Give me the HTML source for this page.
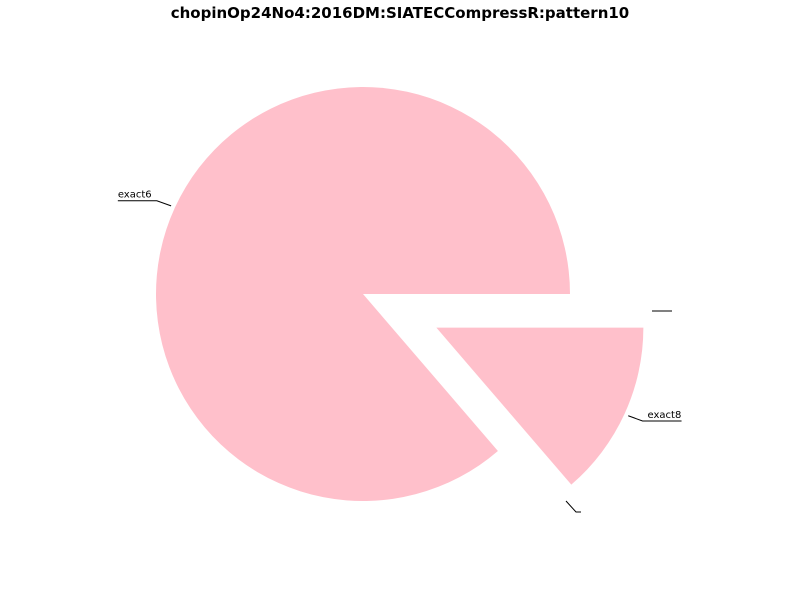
<!DOCTYPE html>
<html><head><meta charset="utf-8"><style>
body{margin:0;background:#fff;}
svg{display:block;font-family:"DejaVu Sans","Liberation Sans",sans-serif;}
</style></head><body>
<svg id="chart" width="800" height="600">
<text x="400" y="18" text-anchor="middle" font-size="15" font-weight="bold">chopinOp24No4:2016DM:SIATECCompressR:pattern10</text>
<line x1="652" y1="311" x2="672" y2="311" stroke="#000" stroke-width="1"/>
<polyline points="566,501 576,512 581,512" fill="none" stroke="#000" stroke-width="1"/>
</svg>
<script>
const labels = ["exact6", "exact8"];
const values = [86.3, 13.7];
const explode = [0, 0.39];
const svg = document.getElementById('chart');
const NS = 'http://www.w3.org/2000/svg';
const cx = 363, cy = 294, r = 207;
const total = values.reduce((a, b) => a + b, 0);
let start = 0;
values.forEach((v, i) => {
  const sweep = v / total * 2 * Math.PI;
  const end = start + sweep;
  const mid = (start + end) / 2;
  const ox = cx + Math.cos(mid) * explode[i] * r;
  const oy = cy - Math.sin(mid) * explode[i] * r;
  const x1 = ox + r * Math.cos(start), y1 = oy - r * Math.sin(start);
  const x2 = ox + r * Math.cos(end), y2 = oy - r * Math.sin(end);
  const large = sweep > Math.PI ? 1 : 0;
  const p = document.createElementNS(NS, 'path');
  p.setAttribute('d', `M${ox},${oy} L${x1},${y1} A${r},${r} 0 ${large} 0 ${x2},${y2} Z`);
  p.setAttribute('fill', '#ffc0cb');
  
  
  svg.appendChild(p);
  const ex = ox + r * 1.02 * Math.cos(mid), ey = oy - r * 1.02 * Math.sin(mid);
  const lx = ox + r * 1.08 * Math.cos(mid), ly = oy - r * 1.08 * Math.sin(mid);
  const right = Math.cos(mid) >= 0;
  const tx = right ? lx + 3 : lx - 3;
  const uEnd = right ? tx + 39 : tx - 39;
  const g = document.createElementNS(NS, 'polyline');
  g.setAttribute('points', `${ex},${ey} ${tx},${ly} ${uEnd},${ly}`);
  g.setAttribute('fill', 'none');
  g.setAttribute('stroke', '#000');
  
  
  svg.appendChild(g);
  const t = document.createElementNS(NS, 'text');
  t.setAttribute('x', right ? tx + 5 : uEnd);
  t.setAttribute('y', ly - 3);
  t.setAttribute('font-size', '10');
  t.textContent = labels[i];
  
  
  svg.appendChild(t);
  start = end;
});
</script>
</body></html>
